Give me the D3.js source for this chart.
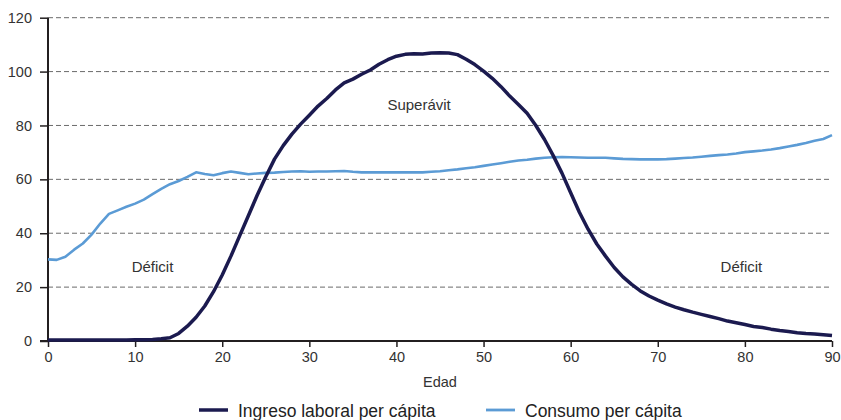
<!DOCTYPE html>
<html><head><meta charset="utf-8">
<script src="https://cdn.jsdelivr.net/npm/d3@7"></script>
<style>
body{margin:0;background:#fff;}
svg{display:block;font-family:"Liberation Sans",Arial,sans-serif;}
</style></head>
<body><svg id="c" width="841" height="420"></svg>
<script>
const ages = d3.range(0, 91);
const ingreso = [0.4,0.4,0.4,0.4,0.4,0.4,0.4,0.4,0.4,0.4,
 0.5,0.5,0.6,0.8,1.2,2.8,5.5,8.8,13.0,18.3,
 24.5,31.5,39.0,46.5,54.0,61.0,67.5,72.5,76.8,80.5,
 83.8,87.2,90.0,93.2,95.8,97.2,99.0,100.6,102.7,104.4,
 105.7,106.4,106.6,106.5,106.9,107.0,106.9,106.3,104.6,102.6,
 100.2,97.5,94.4,90.9,87.8,84.5,80.0,74.8,68.8,62.3,
 55.0,47.8,41.5,36.0,31.5,27.3,23.8,21.0,18.6,16.7,
 15.2,13.8,12.6,11.6,10.7,9.9,9.1,8.3,7.4,6.8,
 6.1,5.4,5.0,4.4,3.9,3.5,3.1,2.8,2.6,2.3,2.0];
const consumo = [30.3,30.1,31.3,33.9,36.2,39.5,43.6,47.2,48.5,49.8,
 51.0,52.5,54.5,56.5,58.2,59.4,60.9,62.6,62.0,61.5,
 62.3,62.9,62.4,61.9,62.2,62.4,62.5,62.7,62.9,63.0,
 62.8,62.9,62.9,63.0,63.1,62.8,62.6,62.6,62.6,62.6,
 62.6,62.6,62.6,62.6,62.8,63.0,63.4,63.7,64.1,64.5,
 65.0,65.5,66.0,66.5,67.0,67.3,67.7,68.0,68.2,68.3,
 68.2,68.1,68.0,68.0,68.0,67.8,67.6,67.5,67.4,67.4,
 67.4,67.5,67.7,67.9,68.1,68.4,68.7,69.0,69.2,69.6,
 70.1,70.4,70.7,71.1,71.6,72.2,72.8,73.5,74.3,75.0,76.4];
const xTicks = [0,10,20,30,40,50,60,70,80,90];
const yTicks = [0,20,40,60,80,100,120];
const seriesNames = ["Ingreso laboral per cápita","Consumo per cápita"];
const seriesColors = ["#1b1a4f","#5b9bd5"];
const annotations = [{t:"Superávit",age:42.6,v:85.8},{t:"Déficit",age:12,v:25.6},{t:"Déficit",age:79.6,v:25.6}];

const svg = d3.select("#c");
const x = d3.scaleLinear().domain([0,90]).range([48,832]);
const y = d3.scaleLinear().domain([0,120]).range([341,17.7]);

// gridlines
svg.append("g").selectAll("line").data(yTicks.filter(d=>d>0)).join("line")
  .attr("x1",x(0)).attr("x2",x(90)).attr("y1",d=>y(d)).attr("y2",d=>y(d))
  .attr("stroke","#6b6b6b").attr("stroke-width",1).attr("stroke-dasharray","5,3");

// y axis
const ya = svg.append("g").attr("transform",`translate(${x(0)},0)`)
  .call(d3.axisLeft(y).tickValues(yTicks).tickSize(8).tickPadding(8).tickFormat(d3.format("d")));
ya.select(".domain").remove();
ya.append("line").attr("x1",0).attr("x2",0).attr("y1",y(120)).attr("y2",y(0)).attr("stroke","#231f20").attr("stroke-width",2);
ya.selectAll(".tick line").attr("stroke","#231f20").attr("stroke-width",1.5);
ya.selectAll(".tick text").attr("font-size",14.5).attr("fill","#333").attr("font-family","Liberation Sans, Arial, sans-serif");

// x axis
const xa = svg.append("g").attr("transform",`translate(0,${y(0)})`)
  .call(d3.axisBottom(x).tickValues(xTicks).tickSize(6).tickPadding(5).tickFormat(d3.format("d")));
xa.select(".domain").remove();
xa.append("line").attr("x1",x(0)-8).attr("x2",x(90)).attr("y1",0).attr("y2",0).attr("stroke","#231f20").attr("stroke-width",2);
xa.selectAll(".tick line").attr("stroke","#231f20").attr("stroke-width",1.5);
xa.selectAll(".tick text").attr("font-size",14.5).attr("fill","#333").attr("font-family","Liberation Sans, Arial, sans-serif");

svg.append("text").attr("x",(x(0)+x(90))/2).attr("y",387).attr("text-anchor","middle")
  .attr("font-size",14.5).attr("fill","#333").text("Edad");

// lines
const line = d3.line().x((d,i)=>x(ages[i])).y(d=>y(d)).curve(d3.curveLinear);
svg.append("path").datum(consumo).attr("d",line).attr("fill","none")
  .attr("stroke",seriesColors[1]).attr("stroke-width",2.6).attr("stroke-linejoin","round");
svg.append("path").datum(ingreso).attr("d",line).attr("fill","none")
  .attr("stroke",seriesColors[0]).attr("stroke-width",3.5).attr("stroke-linejoin","round");

// annotations
svg.append("g").selectAll("text").data(annotations).join("text")
  .attr("x",d=>x(d.age)).attr("y",d=>y(d.v)).attr("text-anchor","middle")
  .attr("font-size",15).attr("fill","#333").text(d=>d.t);

// legend
const legX = [199,486];
const lg = svg.append("g");
seriesNames.forEach((n,i)=>{
  lg.append("line").attr("x1",legX[i]).attr("x2",legX[i]+29).attr("y1",410).attr("y2",410)
    .attr("stroke",seriesColors[i]).attr("stroke-width",i===0?3.5:2.8);
  lg.append("text").attr("x",legX[i]+39).attr("y",416.5).attr("font-size",17.5).attr("fill","#222").text(n);
});
</script></body></html>
